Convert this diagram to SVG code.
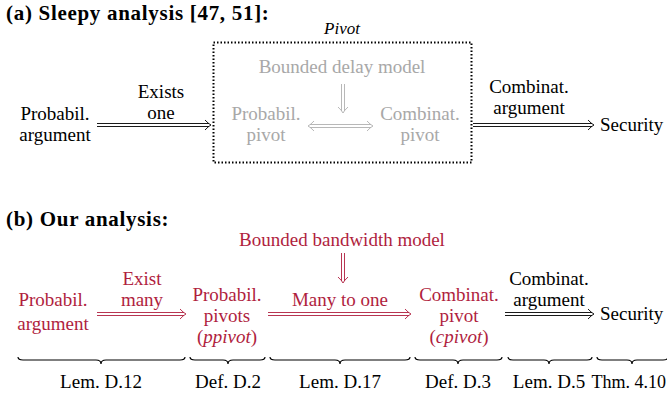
<svg xmlns="http://www.w3.org/2000/svg" width="667" height="396" viewBox="0 0 667 396">
<style>
text{font-family:"Liberation Serif","Times New Roman",serif;font-size:19px;text-anchor:middle}
.t{font-weight:bold;font-size:21px;letter-spacing:0.7px;text-anchor:start}
.k{fill:#000}.g{fill:#a8a8a8}.r{fill:#b01e3e}
.ln{fill:none;stroke-width:0.9}
.sk{stroke:#000}.sg{stroke:#b0b0b0}.sr{stroke:#b01e3e}
.br{fill:none;stroke:#000;stroke-width:1.2}
</style>
<defs>
<path id="hd" d="M-6,-5 Q-2.5,-1.2 0,0 Q-2.5,1.2 -6,5"/>
</defs>
<rect width="667" height="396" fill="#fff"/>

<g id="title-a"><text class="t" x="6" y="20">(a)  Sleepy analysis [47, 51]:</text></g>
<g id="pivot-box">
<rect x="213.5" y="42.5" width="258" height="120" fill="none" stroke="#000" stroke-width="2" stroke-dasharray="1.5 2"/>
<text x="342" y="34" style="font-style:italic;font-size:17px">Pivot</text>
</g>
<g id="a-prob-arg"><text class="k" x="55" y="120">Probabil.</text><text class="k" x="55" y="141">argument</text></g>
<g id="a-bdm"><text class="g" x="342" y="73">Bounded delay model</text></g>
<g id="a-ppivot"><text class="g" x="266" y="120">Probabil.</text><text class="g" x="266" y="141">pivot</text></g>
<g id="a-cpivot"><text class="g" x="420" y="120">Combinat.</text><text class="g" x="420" y="141">pivot</text></g>
<g id="a-security"><text class="k" x="600" y="131" style="text-anchor:start">Security</text></g>

<g id="title-b"><text class="t" x="6" y="226">(b)  Our analysis:</text></g>
<g id="b-bbm"><text class="r" x="342" y="246">Bounded bandwidth model</text></g>
<g id="b-prob-arg"><text class="r" x="53" y="306">Probabil.</text><text class="r" x="53" y="330">argument</text></g>
<g id="b-ppivot"><text class="r" x="227" y="301">Probabil.</text><text class="r" x="227" y="322">pivots</text><text class="r" x="227" y="343">(<tspan font-style="italic">ppivot</tspan>)</text></g>
<g id="b-cpivot"><text class="r" x="459" y="301">Combinat.</text><text class="r" x="459" y="322">pivot</text><text class="r" x="459" y="343">(<tspan font-style="italic">cpivot</tspan>)</text></g>
<g id="b-security"><text class="k" x="600" y="320" style="text-anchor:start">Security</text></g>

<g id="connectors">
<!-- (a) -->
<text class="k" x="161" y="98">Exists</text><text class="k" x="161" y="119">one</text>
<path class="ln sk" d="M97,123.5H209M97,126.5H209"/><use href="#hd" class="ln sk" x="211" y="125"/>
<text class="k" x="529" y="93">Combinat.</text><text class="k" x="529" y="114">argument</text>
<path class="ln sk" d="M473,123.5H592M473,126.5H592"/><use href="#hd" class="ln sk" x="594" y="125"/>
<path class="ln sg" d="M341.5,84V111M344.5,84V111"/><use href="#hd" class="ln sg" transform="translate(343,113) rotate(90)"/>
<path class="ln sg" d="M310,124.5H371M310,127.5H371"/><use href="#hd" class="ln sg" x="373" y="126"/><use href="#hd" class="ln sg" transform="translate(308,126) rotate(180)"/>
<!-- (b) -->
<text class="r" x="142" y="285">Exist</text><text class="r" x="142" y="306">many</text>
<path class="ln sr" d="M97,312.5H184M97,315.5H184"/><use href="#hd" class="ln sr" x="186" y="314"/>
<text class="r" x="340" y="306">Many to one</text>
<path class="ln sr" d="M268,312.5H409M268,315.5H409"/><use href="#hd" class="ln sr" x="411" y="314"/>
<path class="ln sr" d="M341.5,253V281M344.5,253V281"/><use href="#hd" class="ln sr" transform="translate(343,283) rotate(90)"/>
<text class="k" x="549" y="285">Combinat.</text><text class="k" x="549" y="306">argument</text>
<path class="ln sk" d="M505,312.5H592M505,315.5H592"/><use href="#hd" class="ln sk" x="594" y="314"/>
</g>

<g id="braces">
<path class="br" d="M18,357q0,3 5,3H96q5,0 5,4q0,-4 5,-4H180q5,0 5,-3"/>
<path class="br" d="M190,357q0,3 5,3H223q5,0 5,4q0,-4 5,-4H260q5,0 5,-3"/>
<path class="br" d="M270,357q0,3 5,3H335q5,0 5,4q0,-4 5,-4H405q5,0 5,-3"/>
<path class="br" d="M415,357q0,3 5,3H453q5,0 5,4q0,-4 5,-4H497q5,0 5,-3"/>
<path class="br" d="M508,357q0,3 5,3H544q5,0 5,4q0,-4 5,-4H587q5,0 5,-3"/>
<path class="br" d="M597,357q0,3 5,3H627q5,0 5,4q0,-4 5,-4H663q5,0 5,-3"/>
<text class="k" x="101" y="388">Lem. D.12</text>
<text class="k" x="228" y="388">Def. D.2</text>
<text class="k" x="340" y="388">Lem. D.17</text>
<text class="k" x="458" y="388">Def. D.3</text>
<text class="k" x="549" y="388">Lem. D.5</text>
<text class="k" x="666" y="388" style="text-anchor:end;font-size:18px">Thm. 4.10</text>
</g>
</svg>
